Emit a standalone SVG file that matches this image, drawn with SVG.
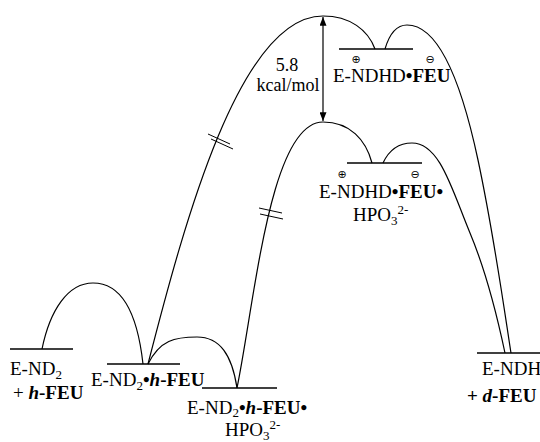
<svg xmlns="http://www.w3.org/2000/svg" width="540" height="442" viewBox="0 0 540 442">
<style>
  .lvl { stroke: #000; stroke-width: 1.3; fill: none; }
  .crv { stroke: #000; stroke-width: 1.2; fill: none; }
  .brk { stroke: #000; stroke-width: 1; fill: none; }
  .sub { font-size: 13px; }
  .b { font-weight: bold; }
  .bi { font-weight: bold; font-style: italic; }
</style>
<defs>
  <marker id="ah" viewBox="0 0 10 8" refX="10" refY="4" markerWidth="10" markerHeight="7" markerUnits="userSpaceOnUse" orient="auto-start-reverse">
    <path d="M0,0 L10,4 L0,8 Z" fill="#000"/>
  </marker>
</defs>
<rect width="540" height="442" fill="#fff"/>

<g id="connectors">
  <path class="crv" d="M42,349 C50,310 68,283 93,283 C120,283 137,310 143,364"/>
  <path class="crv" d="M148,364 C160,340 175,337 197,337 C220,337 232,355 237,388"/>
  <path class="crv" d="M148,364 C185,220 240,16 323,16 C350,16 368,30 375,49"/>
  <path class="crv" d="M385,49 C390,32 398,25 407,25 C440,25 462,85 478,160 S505,315 511,353"/>
  <path class="crv" d="M237,388 C255,300 270,122 323,122 C350,122 366,140 372,163"/>
  <path class="crv" d="M383,163 C390,148 400,143 412,143 C440,143 452,190 470,233 S498,320 505,353"/>
  <line class="brk" x1="208" y1="134" x2="230" y2="144"/>
  <line class="brk" x1="211" y1="139" x2="233" y2="149"/>
  <line class="brk" x1="259" y1="208" x2="282" y2="213"/>
  <line class="brk" x1="260" y1="214" x2="283" y2="219"/>
</g>

<g font-family="Liberation Serif, serif" font-size="19" fill="#000">
<g id="barrier">
  <line class="crv" x1="323" y1="17" x2="323" y2="121" marker-start="url(#ah)" marker-end="url(#ah)"/>
  <text x="287" y="71" text-anchor="middle" font-size="18">5.8</text>
  <text x="288" y="91" text-anchor="middle" font-size="18">kcal/mol</text>
</g>

<g id="reactants">
  <line class="lvl" x1="10" y1="349" x2="73" y2="349"/>
  <text x="10" y="375">E-ND<tspan class="sub" dy="4">2</tspan></text>
  <text x="13" y="399">+ <tspan class="bi">h</tspan><tspan class="b">-FEU</tspan></text>
</g>

<g id="complex1">
  <line class="lvl" x1="107" y1="364" x2="180" y2="364"/>
  <text x="91" y="386">E-ND<tspan class="sub" dy="4">2</tspan><tspan class="b" dy="-4">•</tspan><tspan class="bi">h</tspan><tspan class="b">-FEU</tspan></text>
</g>

<g id="complex2">
  <line class="lvl" x1="202" y1="388" x2="277" y2="388"/>
  <text x="187" y="414">E-ND<tspan class="sub" dy="3">2</tspan><tspan class="b" dy="-3">•</tspan><tspan class="bi">h</tspan><tspan class="b">-FEU</tspan><tspan class="b">•</tspan></text>
  <text x="225" y="436">HPO<tspan class="sub" dy="4">3</tspan><tspan class="sub" dy="-11">2-</tspan></text>
</g>

<g id="intermediate1">
  <line class="lvl" x1="339" y1="49" x2="413" y2="49"/>
  <text x="356" y="63" text-anchor="middle" font-family="DejaVu Sans, sans-serif" font-size="11">⊕</text>
  <text x="430" y="63" text-anchor="middle" font-family="DejaVu Sans, sans-serif" font-size="11">⊖</text>
  <text x="333" y="82">E-NDHD<tspan class="b">•FEU</tspan></text>
</g>

<g id="intermediate2">
  <line class="lvl" x1="347" y1="163" x2="422" y2="163"/>
  <text x="342" y="178" text-anchor="middle" font-family="DejaVu Sans, sans-serif" font-size="11">⊕</text>
  <text x="415" y="178" text-anchor="middle" font-family="DejaVu Sans, sans-serif" font-size="11">⊖</text>
  <text x="319" y="198">E-NDHD<tspan class="b">•FEU•</tspan></text>
  <text x="353" y="221">HPO<tspan class="sub" dy="4">3</tspan><tspan class="sub" dy="-11">2-</tspan></text>
</g>

<g id="products">
  <line class="lvl" x1="477" y1="353" x2="540" y2="353"/>
  <text x="482" y="375">E-NDH</text>
  <text x="467" y="402"><tspan class="b">+ </tspan><tspan class="bi">d</tspan><tspan class="b">-FEU</tspan></text>
</g>
</g>
</svg>
